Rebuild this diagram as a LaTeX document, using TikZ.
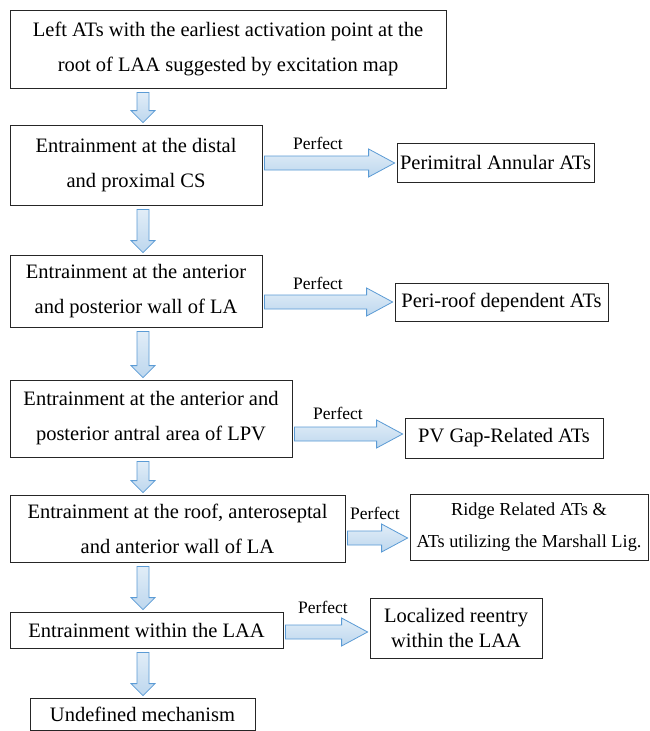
\documentclass[tikz,border=0pt]{standalone}
\usepackage{fontspec}
\setmainfont{Liberation Serif}
\usetikzlibrary{calc}
\definecolor{arrfill}{HTML}{BDD7EE}
\definecolor{arrline}{HTML}{5B9BD5}
\tikzset{
 box/.style={draw=black!85, line width=0.8pt, align=center, inner sep=0pt, font=\fontsize{20.5}{35}\selectfont},
 lbl/.style={font=\fontsize{17.5}{20}\selectfont, inner sep=0pt},
 barrow/.style={draw=arrline, line width=0.8pt, top color=arrfill!45!white, bottom color=arrfill, line join=miter},
}
\newcommand{\vblock}[2]{\draw[barrow] let \p1=(#1.south -| ax), \p2=(#2.north -| ax) in
 (\x1-6pt,\y1-4pt) -- (\x1+6pt,\y1-4pt) -- (\x1+6pt,\y2+14pt) -- (\x1+12pt,\y2+14pt) -- (\x1,\y2+2pt) -- (\x1-12pt,\y2+14pt) -- (\x1-6pt,\y2+14pt) -- cycle;}
\newcommand{\hblock}[3]{\draw[barrow] let \p1=(#1.east |- #3), \p2=(#2.west |- #3) in
 (\x1+2pt,\y1+7pt) -- (\x2-28pt,\y1+7pt) -- (\x2-28pt,\y1+14pt) -- (\x2-2pt,\y1) -- (\x2-28pt,\y1-14pt) -- (\x2-28pt,\y1-7pt) -- (\x1+2pt,\y1-7pt) -- cycle;}
\begin{document}
\begin{tikzpicture}[x=1pt,y=-1pt]
\useasboundingbox (0,0) rectangle (649,731);
\fill[white] (0,0) rectangle (649,731);
\coordinate (ax) at (143,0);
\coordinate (y1) at (0,163);
\coordinate (y2) at (0,302);
\coordinate (y3) at (0,434);
\coordinate (y4) at (0,538);
\coordinate (y5) at (0,632);

\node[box, minimum width=436, minimum height=78] (b1) at (228,49) {Left ATs with the earliest activation point at the\\root of LAA suggested by excitation map};
\node[box, minimum width=252, minimum height=80] (b2) at (136,165) {Entrainment at the distal\\and proximal CS};
\node[box, minimum width=197, minimum height=39] (r1) at (495.5,162.5) {Perimitral Annular ATs};
\node[box, minimum width=252, minimum height=72] (b3) at (136,291) {Entrainment at the anterior\\and posterior wall of LA};
\node[box, minimum width=213, minimum height=38] (r2) at (501.5,302) {Peri-roof dependent ATs};
\node[box, minimum width=282, minimum height=77] (b4) at (151,418.5) {Entrainment at the anterior and\\posterior antral area of LPV};
\node[box, minimum width=198, minimum height=40] (r3) at (504,438) {PV Gap-Related ATs};
\node[box, minimum width=335, minimum height=67] (b5) at (177.5,528.5) {Entrainment at the roof, anteroseptal\\and anterior wall of LA};
\node[box, minimum width=238, minimum height=66, font=\fontsize{18.3}{32}\selectfont] (r4) at (529,527.5) {Ridge Related ATs \&\\ATs utilizing the Marshall Lig.};
\node[box, minimum width=273, minimum height=36] (b6) at (146.5,630) {Entrainment within the LAA};
\node[box, minimum width=172, minimum height=60, font=\fontsize{20.5}{25}\selectfont] (r5) at (456,628) {Localized reentry\\within the LAA};
\node[box, minimum width=225, minimum height=32] (b7) at (142.5,714) {Undefined mechanism};

\node[lbl] (p1) at (318,143) {Perfect};
\node[lbl] (p2) at (318,283) {Perfect};
\node[lbl] (p3) at (338,413) {Perfect};
\node[lbl] (p4) at (375,513) {Perfect};
\node[lbl] (p5) at (323,607) {Perfect};

\vblock{b1}{b2}
\vblock{b2}{b3}
\vblock{b3}{b4}
\vblock{b4}{b5}
\vblock{b5}{b6}
\vblock{b6}{b7}

\hblock{b2}{r1}{y1}
\hblock{b3}{r2}{y2}
\hblock{b4}{r3}{y3}
\hblock{b5}{r4}{y4}
\hblock{b6}{r5}{y5}
\end{tikzpicture}
\end{document}
